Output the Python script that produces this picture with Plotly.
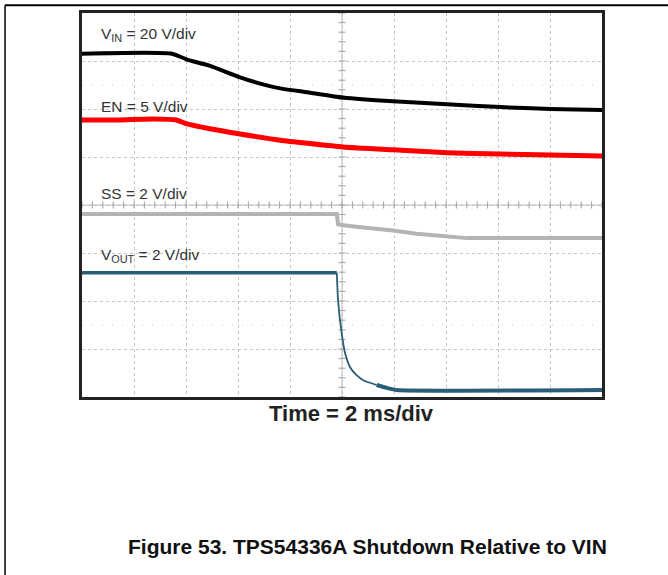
import numpy as np
import plotly.graph_objects as go

# Time axis in ms (2 ms/div, 10 divs); vertical values in screen divisions (0 = bottom, 8 = top)
vin_t = [0, 3.46, 4.04, 4.92, 6.08, 6.85, 7.62, 8.77, 10.04, 11.96, 14.04, 16.08, 18.0, 20.0]
vin_v = [7.15, 7.15, 7.03, 6.90, 6.66, 6.53, 6.43, 6.34, 6.24, 6.16, 6.10, 6.04, 6.00, 5.98]

en_t = [0, 1.08, 2.73, 3.62, 4.04, 4.92, 6.08, 7.62, 8.77, 10.04, 11.96, 14.04, 16.08, 18.0, 20.0]
en_v = [5.77, 5.77, 5.79, 5.77, 5.69, 5.59, 5.48, 5.35, 5.28, 5.21, 5.15, 5.09, 5.06, 5.04, 5.02]

ss_t = [0, 9.80, 9.85, 10.04, 10.82, 11.96, 12.87, 14.04, 14.81, 20.0]
ss_v = [3.81, 3.81, 3.60, 3.58, 3.53, 3.47, 3.40, 3.35, 3.31, 3.31]

vout_t = [0, 9.80, 9.85, 9.99, 10.12, 10.31, 10.56, 10.82, 11.33, 11.72, 12.10, 20.0]
vout_v = [2.59, 2.59, 2.00, 1.32, 0.91, 0.62, 0.455, 0.35, 0.25, 0.19, 0.145, 0.145]

channel_levels = [5.97, 5.0, 2.99, 0.14]

labels = ["V<sub>IN</sub> = 20 V/div", "EN = 5 V/div", "SS = 2 V/div", "V<sub>OUT</sub> = 2 V/div"]
label_levels = [7.55, 6.06, 4.24, 2.95]

x_title = "Time = 2 ms/div"
caption = "Figure 53. TPS54336A Shutdown Relative to VIN"

FONT = "Liberation Sans, Arial, sans-serif"
fig = go.Figure()

# center-line minor ticks
tx = np.arange(0, 20.001, 0.4)
ty = np.arange(0, 8.001, 0.2)
fig.add_trace(go.Scatter(x=tx, y=[4] * len(tx), mode="markers",
                         marker=dict(symbol="line-ns", size=5, line=dict(color="#a0a0a0", width=1)),
                         hoverinfo="skip", showlegend=False))
fig.add_trace(go.Scatter(x=[10] * len(ty), y=ty, mode="markers",
                         marker=dict(symbol="line-ew", size=5, line=dict(color="#a0a0a0", width=1)),
                         hoverinfo="skip", showlegend=False))

fig.add_trace(go.Scatter(x=vin_t, y=vin_v, mode="lines",
                         line=dict(color="#000000", width=4, shape="spline", smoothing=0.6),
                         showlegend=False))
fig.add_trace(go.Scatter(x=en_t, y=en_v, mode="lines",
                         line=dict(color="#ff0000", width=5, shape="spline", smoothing=0.6),
                         showlegend=False))
fig.add_trace(go.Scatter(x=ss_t, y=ss_v, mode="lines", line=dict(color="#b4b4b4", width=4),
                         showlegend=False))
VC = "#2a5d77"
fig.add_trace(go.Scatter(x=vout_t[0:2], y=vout_v[0:2], mode="lines", line=dict(color=VC, width=3.5),
                         showlegend=False))
fig.add_trace(go.Scatter(x=vout_t[1:9], y=vout_v[1:9], mode="lines",
                         line=dict(color=VC, width=1.8, shape="spline", smoothing=0.5),
                         showlegend=False))
fig.add_trace(go.Scatter(x=vout_t[8:], y=vout_v[8:], mode="lines",
                         line=dict(color=VC, width=4, shape="spline", smoothing=0.5),
                         showlegend=False))

fig.add_trace(go.Scatter(x=[-0.15] * len(channel_levels), y=channel_levels, mode="markers",
                         marker=dict(symbol="triangle-right", size=5, color="#000"),
                         cliponaxis=False, showlegend=False, hoverinfo="skip"))

for txt, lv in zip(labels, label_levels):
    fig.add_annotation(x=0.67, y=lv, xref="x", yref="y", text=txt, showarrow=False,
                       xanchor="left", yanchor="middle",
                       font=dict(family=FONT, size=15.5, color="#333333"))

fig.add_annotation(x=0.519, y=-0.044, xref="paper", yref="paper", text="<b>" + x_title + "</b>",
                   showarrow=False, xanchor="center", yanchor="middle",
                   font=dict(family=FONT, size=22, color="#222222"))
fig.add_annotation(x=0.549, y=-0.390, xref="paper", yref="paper", text="<b>" + caption + "</b>",
                   showarrow=False, xanchor="center", yanchor="middle",
                   font=dict(family=FONT, size=21, color="#111111"))

# center lines + faint dotted marker rows
fig.add_shape(type="line", x0=10, x1=10, y0=0, y1=8, xref="x", yref="y",
              line=dict(color="#bdbdbd", width=1), layer="below")
fig.add_shape(type="line", x0=0, x1=20, y0=4, y1=4, xref="x", yref="y",
              line=dict(color="#bdbdbd", width=1), layer="below")
for lv in [6.5, 1.5]:
    fig.add_shape(type="line", x0=0, x1=20, y0=lv, y1=lv, xref="x", yref="y",
                  line=dict(color="#c8c8c8", width=1, dash="1px,9px"), layer="below")

# outer page frame (top and left)
fig.add_shape(type="line", x0=-0.148, x1=1.13, y0=1.0205, y1=1.0205, xref="paper", yref="paper",
              line=dict(color="#000", width=2))
fig.add_shape(type="line", x0=-0.148, x1=-0.148, y0=1.0205, y1=-0.47, xref="paper", yref="paper",
              line=dict(color="#000", width=1.5))

axis_common = dict(showticklabels=False, ticks="", zeroline=False, showline=True, mirror=True,
                   linecolor="#222222", linewidth=2.5, showgrid=True, gridcolor="#c4c4c4",
                   griddash="dot", gridwidth=1, fixedrange=True)
fig.update_xaxes(range=[0, 20], dtick=2, tick0=0, **axis_common)
fig.update_yaxes(range=[0, 8], dtick=1, tick0=0, **axis_common)

fig.update_layout(width=668, height=575, margin=dict(l=82, r=66, t=10, b=178),
                  paper_bgcolor="white", plot_bgcolor="white", showlegend=False)

fig.write_html("out.html", config={"displayModeBar": False},
               post_script="document.body.style.margin='0';document.body.style.overflow='hidden';")
